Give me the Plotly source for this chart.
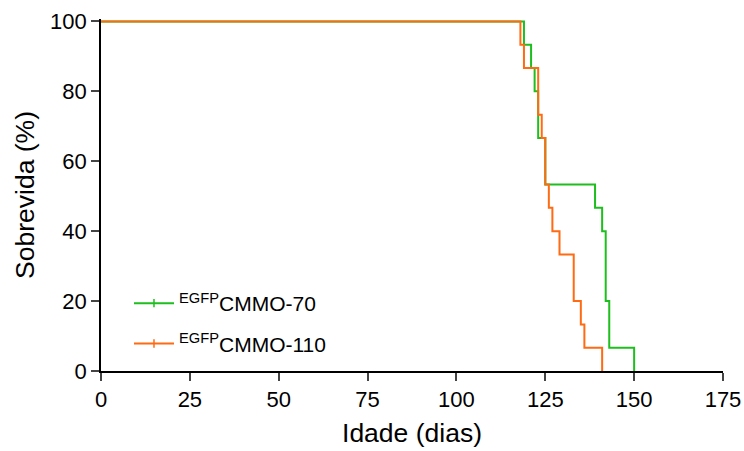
import plotly.graph_objects as go

# Kaplan-Meier step data (days, survival %)
green_days = [0, 119, 121, 122, 123, 125, 139, 141, 142, 143, 150]
green_surv = [100, 93.33, 86.67, 80, 66.67, 53.33, 46.67, 40, 20, 6.67, 0]
orange_days = [0, 118, 119, 123, 124, 125, 126, 127, 129, 133, 135, 136, 141]
orange_surv = [100, 93.33, 86.67, 73.33, 66.67, 53.33, 46.67, 40, 33.33, 20, 13.33, 6.67, 0]

series_names = ["<sup>EGFP</sup>CMMO-70", "<sup>EGFP</sup>CMMO-110"]
colors = ["#1DBE1D", "#FF6A13"]
x_ticks = [0, 25, 50, 75, 100, 125, 150, 175]
y_ticks = [0, 20, 40, 60, 80, 100]

fig = go.Figure()
for xs, ys, c in zip([green_days, orange_days], [green_surv, orange_surv], colors):
    fig.add_trace(go.Scatter(x=xs, y=ys, mode="lines", line=dict(color=c, width=2, shape="hv"),
                             showlegend=False))
for i, (name, c) in enumerate(zip(series_names, colors)):
    fig.add_trace(go.Scatter(x=[None], y=[None], mode="lines+markers", name=name,
                             legendgroup=f"g{i}",
                             line=dict(color=c, width=2),
                             marker=dict(symbol="line-ns", size=6, line=dict(color=c, width=1.5))))

font_family = "Liberation Sans, Arial, sans-serif"
fig.update_layout(
    template="none",
    width=744, height=451,
    margin=dict(l=101, r=21, t=18.5, b=80, autoexpand=False),
    plot_bgcolor="white", paper_bgcolor="white",
    font=dict(family=font_family, size=22, color="black"),
    showlegend=True,
    legend=dict(x=0.045, y=0.25, xanchor="left", yanchor="top", bgcolor="rgba(0,0,0,0)",
                font=dict(size=21), tracegroupgap=10, itemwidth=40),
    xaxis=dict(range=[0, 175], tickvals=x_ticks, ticks="outside", ticklen=8, tickwidth=1.8,
               showline=True, linecolor="black", linewidth=1.8, showgrid=False, zeroline=False,
               automargin=False,
               title=dict(text="Idade (dias)", standoff=12, font=dict(size=26.5)),
               tickfont=dict(size=22)),
    yaxis=dict(range=[0, 100.7], tickvals=y_ticks, ticks="outside", ticklen=8, tickwidth=1.8,
               showline=True, linecolor="black", linewidth=1.8, showgrid=False, zeroline=False,
               automargin=False,
               title=dict(text="Sobrevida (%)", standoff=8, font=dict(size=26.5)),
               tickfont=dict(size=22)),
)
fig.write_html("out.html")
